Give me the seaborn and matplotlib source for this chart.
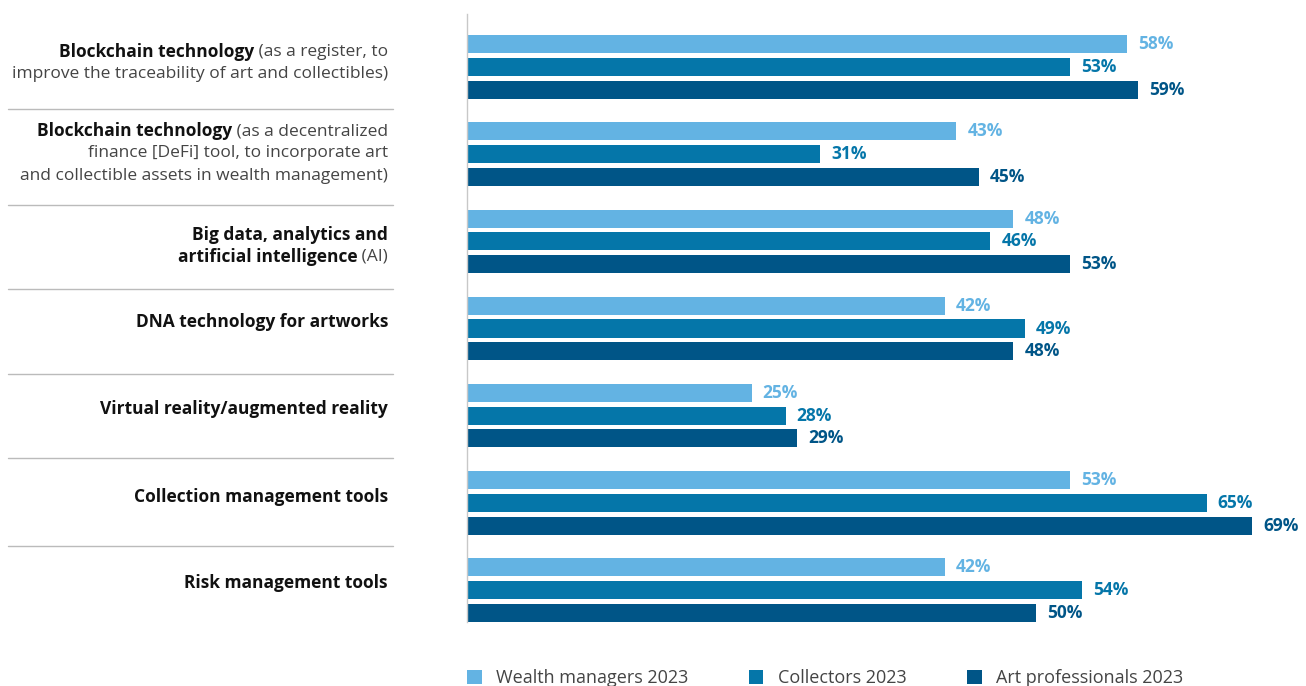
import pandas as pd
import matplotlib.pyplot as plt
import matplotlib.transforms as mtransforms
import seaborn as sns

# данные
categories = ['Blockchain register', 'Blockchain DeFi', 'Big data AI', 'DNA',
              'VR/AR', 'Collection mgmt', 'Risk mgmt']
series = ['Wealth managers 2023', 'Collectors 2023', 'Art professionals 2023']
wealth = [58, 43, 48, 42, 25, 53, 42]
collectors = [53, 31, 46, 49, 28, 65, 54]
art_pros = [59, 45, 53, 48, 29, 69, 50]
colors = ['#63b3e3', '#0576a9', '#005587']

# подписи категорий: строки из кусков (текст, жирный)
labels = [
    [[('Blockchain technology', True), (' (as a register, to', False)],
     [('improve the traceability of art and collectibles)', False)]],
    [[('Blockchain technology', True), (' (as a decentralized', False)],
     [('finance [DeFi] tool, to incorporate art', False)],
     [('and collectible assets in wealth management)', False)]],
    [[('Big data, analytics and', True)],
     [('artificial intelligence', True), (' (AI)', False)]],
    [[('DNA technology for artworks', True)]],
    [[('Virtual reality/augmented reality', True)]],
    [[('Collection management tools', True)]],
    [[('Risk management tools', True)]],
]
label_shift = [-0.05, -0.01, 0.05, -0.075, -0.08, -0.07, -0.08]
sep_shift = [-0.02, 0.08, 0.05, 0.02, -0.015, -0.005]

df = pd.DataFrame({
    'cat': categories * 3,
    'series': [s for s in series for _ in categories],
    'value': wealth + collectors + art_pros,
})

sns.set_style('white')
plt.rcParams['font.family'] = ['Open Sans', 'DejaVu Sans']

fig = plt.figure(figsize=(13.06, 6.86), dpi=100)
ax = fig.add_axes([467 / 1306, 64 / 686, 1 - 467 / 1306, 608 / 686])

sns.barplot(data=df, y='cat', x='value', hue='series', orient='h',
            palette=colors, saturation=1, width=0.785, gap=0.21,
            linewidth=0, ax=ax, legend=True)

ax.set_xlim(0, (1306 - 467) / 11.38)
ax.set_ylim(6.367, -0.608)
ax.set_xlabel('')
ax.set_ylabel('')
ax.set_xticks([])
ax.set_yticks([])
for s in ['top', 'right', 'bottom']:
    ax.spines[s].set_visible(False)
ax.spines['left'].set_color('#c8c8c8')
ax.spines['left'].set_linewidth(1)

# значения у концов столбиков
for cont, col in zip(ax.containers, colors):
    ax.bar_label(cont, labels=[f'{v:.0f}%' for v in cont.datavalues],
                 padding=8, color=col, fontsize=12.5, fontweight='bold')

# подписи категорий слева
fig.canvas.draw()
renderer = fig.canvas.get_renderer()
trans = mtransforms.blended_transform_factory(fig.transFigure, ax.transData)
xr = 388 / 1306
line_h = 0.255
for i, lines in enumerate(labels):
    n = len(lines)
    for j, parts in enumerate(lines):
        y = i + label_shift[i] + (j - (n - 1) / 2) * line_h
        x = xr
        for txt, bold in reversed(parts):
            t = fig.text(x, y, txt, transform=trans, ha='right', va='center',
                         fontsize=12.5, color='#111111' if bold else '#444444',
                         fontweight='bold' if bold else 'normal')
            w = t.get_window_extent(renderer).width
            x -= w / fig.bbox.width
    # разделители
    if i < len(labels) - 1:
        ys = i + 0.5 + sep_shift[i]
        ax.plot([8 / 1306, 393 / 1306], [ys, ys], transform=trans,
                color='#bbbbbb', lw=1, clip_on=False)

# легенда
h, l = ax.get_legend_handles_labels()
ax.get_legend().remove()
fig.legend(h, l, loc='upper left', bbox_to_anchor=(460 / 1306, 24 / 686),
           ncol=3, frameon=False, fontsize=13, handlelength=0.8,
           handleheight=0.8, columnspacing=3.35, handletextpad=0.8,
           labelcolor='#444444', borderaxespad=0)

plt.savefig('out.png', dpi=100)
